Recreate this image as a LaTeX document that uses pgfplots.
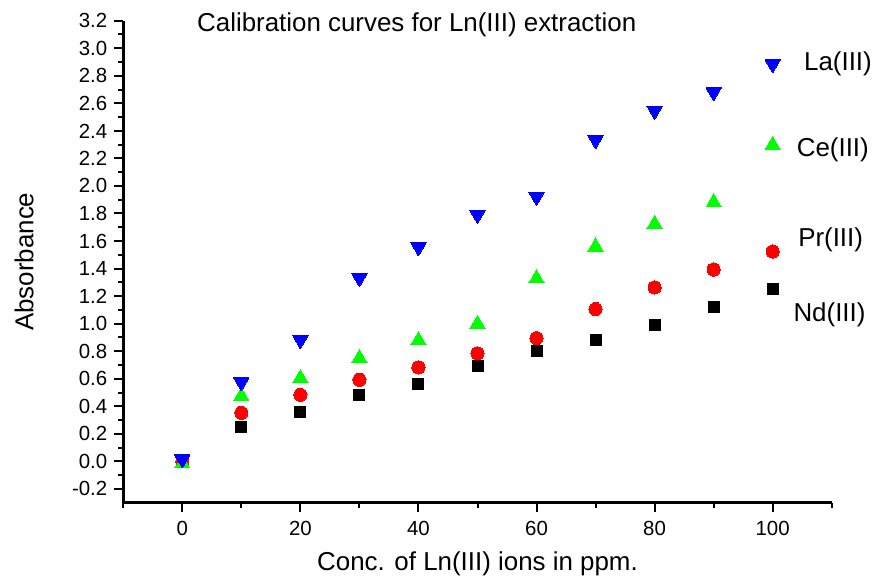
\documentclass[border=0pt]{standalone}
\usepackage{fontspec}
\setmainfont{Liberation Sans}
\usepackage{pgfplots}
\pgfplotsset{compat=1.18}
\begin{document}
\begin{tikzpicture}
\path[use as bounding box] (0,0) rectangle (872bp,577bp);
\begin{axis}[
  at={(123.3bp,74.3bp)}, anchor=south west,
  scale only axis, width=708.4bp, height=482bp,
  xmin=-10, xmax=110, ymin=-0.3, ymax=3.2,
  axis x line*=bottom, axis y line*=left,
  every outer x axis line/.append style={line width=2.4bp, black},
  every outer y axis line/.append style={line width=2.4bp, black},
  axis line style={line width=2.4bp, black},
  every major tick/.append style={line width=2bp, black},
  every minor tick/.append style={line width=2bp, black},
  tick align=outside,
  major tick length=9bp, minor tick length=5bp,
  xtick={0,20,40,60,80,100},
  minor xtick={-10,10,30,50,70,90,110},
  ytick={-0.2,0,0.2,0.4,0.6,0.8,1.0,1.2,1.4,1.6,1.8,2.0,2.2,2.4,2.6,2.8,3.0,3.2},
  minor ytick={-0.1,0.1,0.3,0.5,0.7,0.9,1.1,1.3,1.5,1.7,1.9,2.1,2.3,2.5,2.7,2.9,3.1},
  /pgf/number format/assume math mode=true,
  yticklabel style={/pgf/number format/fixed, /pgf/number format/fixed zerofill, /pgf/number format/precision=1, xshift=-3.5bp},
  xticklabel style={yshift=-6bp},
  tick label style={font=\fontsize{20.5}{24}\selectfont},
  xlabel={Conc. of Ln(III) ions in ppm.},
  ylabel={Absorbance},
  label style={font=\fontsize{26}{31}\selectfont},
  xlabel style={at={(axis description cs:0.5,0)}, anchor=base, yshift=-68bp},
  ylabel style={at={(axis description cs:-0.127,0.5)}, anchor=base, rotate=0},
  clip=false,
  only marks,
]
% Nd(III)
\addplot[color=black, mark=square*, mark size=5.5bp, mark options={fill=black, draw=black, line width=0pt}] coordinates {
 (0,0) (10,0.252) (20,0.36) (30,0.482) (40,0.562) (50,0.692) (60,0.80) (70,0.883) (80,0.992) (90,1.123) (100,1.253)};
% Pr(III)
\addplot[color=red, mark=*, mark size=6.6bp, mark options={fill=red, draw=red, line width=0pt}] coordinates {
 (0,0) (10,0.353) (20,0.484) (30,0.593) (40,0.682) (50,0.784) (60,0.895) (70,1.106) (80,1.263) (90,1.393) (100,1.524)};
% Ce(III)
\addplot[color=green, mark=triangle*, mark size=8.8bp, mark options={yshift=-2.2bp, fill=green, draw=green, line width=0pt}] coordinates {
 (0,0) (10,0.49) (20,0.62) (30,0.765) (40,0.895) (50,1.014) (60,1.345) (70,1.575) (80,1.739) (90,1.897) (100,2.313)};
% La(III)
\addplot[color=blue, mark=triangle*, mark size=8.8bp, mark options={yshift=2.2bp, rotate=180, fill=blue, draw=blue, line width=0pt}] coordinates {
 (0,0) (10,0.56) (20,0.866) (30,1.316) (40,1.54) (50,1.775) (60,1.906) (70,2.318) (80,2.531) (90,2.666) (100,2.869)};
\node[anchor=base, font=\fontsize{26}{31}\selectfont] at (axis cs:39.7,3.125) {Calibration curves for Ln(III) extraction};
\node[anchor=base west, inner sep=0pt, font=\fontsize{26}{31}\selectfont] at (axis cs:105.3,2.837) {La(III)};
\node[anchor=base west, inner sep=0pt, font=\fontsize{26}{31}\selectfont] at (axis cs:104.06,2.213) {Ce(III)};
\node[anchor=base west, inner sep=0pt, font=\fontsize{26}{31}\selectfont] at (axis cs:104.3,1.560) {Pr(III)};
\node[anchor=base west, inner sep=0pt, font=\fontsize{26}{31}\selectfont] at (axis cs:103.5,1.016) {Nd(III)};
\end{axis}
\end{tikzpicture}
\end{document}
